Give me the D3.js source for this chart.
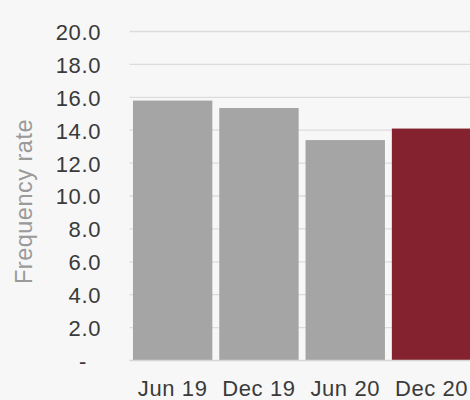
<!DOCTYPE html>
<html>
<head>
<meta charset="utf-8">
<script src="https://cdn.jsdelivr.net/npm/d3@7"></script>
<style>
  body { margin: 0; background: #f6f6f6; }
  svg text { font-family: "Liberation Sans", Arial, sans-serif; }
</style>
</head>
<body>
<div class="chart"></div>
<script>
var categories = ['Jun 19', 'Dec 19', 'Jun 20', 'Dec 20']
var values = [15.8, 15.35, 13.4, 14.1]
var barColors = ['#a5a5a5', '#a5a5a5', '#a5a5a5', '#84232f']
var yTicks = [0, 2, 4, 6, 8, 10, 12, 14, 16, 18, 20]

var width = 470
var height = 400
var plot = { left: 129.5, right: 474.7, top: 31.5, bottom: 360.5 }

var svg = d3.select('.chart')
  .append('svg')
    .attr('width', width)
    .attr('height', height)

svg.append('rect')
  .attr('width', width)
  .attr('height', height)
  .attr('fill', '#f7f7f7')

var yScale = d3.scaleLinear()
  .domain([0, 20])
  .range([plot.bottom, plot.top])

var xScale = d3.scaleBand()
  .domain(categories)
  .range([plot.left, plot.right])
  .paddingInner(0.08)
  .paddingOuter(0.04)

// gridlines
svg.append('g')
  .selectAll('line')
  .data(yTicks.slice(1))
  .enter().append('line')
    .attr('x1', plot.left)
    .attr('x2', width)
    .attr('y1', d => yScale(d))
    .attr('y2', d => yScale(d))
    .attr('stroke', '#dcdcdc')
    .attr('stroke-width', 1.3)

// bars
svg.append('g')
  .selectAll('rect')
  .data(values)
  .enter().append('rect')
    .attr('x', (d, i) => xScale(categories[i]))
    .attr('width', xScale.bandwidth())
    .attr('y', d => yScale(d))
    .attr('height', d => yScale(0) - yScale(d))
    .attr('fill', (d, i) => barColors[i])

// baseline
svg.append('line')
  .attr('x1', plot.left)
  .attr('x2', width)
  .attr('y1', yScale(0))
  .attr('y2', yScale(0))
  .attr('stroke', '#d6d6d6')
  .attr('stroke-width', 1.3)

// y axis labels
var yAxis = d3.axisLeft(yScale)
  .tickValues(yTicks)
  .tickSize(0)
  .tickPadding(0)
  .tickFormat(d => d === 0 ? '-' : d3.format('.1f')(d))

var yg = svg.append('g')
  .attr('transform', 'translate(101, 0)')
  .call(yAxis)
yg.select('.domain').remove()
yg.selectAll('text')
  .attr('font-size', 22)
  .attr('letter-spacing', 0.6)
  .attr('fill', '#3a3a3a')
  .attr('dy', '0.36em')
  .attr('dx', d => d === 0 ? -14 : 0)

// x axis labels
var xAxis = d3.axisBottom(xScale).tickSize(0).tickPadding(0)
var xg = svg.append('g')
  .attr('transform', 'translate(0, 396)')
  .call(xAxis)
xg.select('.domain').remove()
xg.selectAll('text')
  .attr('font-size', 22)
  .attr('letter-spacing', 0.6)
  .attr('fill', '#3a3a3a')
  .attr('dy', 0)

// y title
svg.append('text')
  .attr('transform', 'translate(32, 201.5) rotate(-90)')
  .attr('text-anchor', 'middle')
  .attr('font-size', 23.5)
  .attr('letter-spacing', 0.5)
  .attr('fill', '#9a9a9a')
  .text('Frequency rate')
</script>
</body>
</html>
